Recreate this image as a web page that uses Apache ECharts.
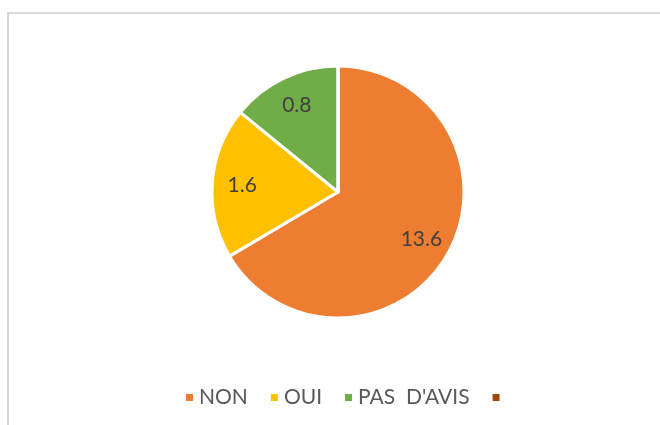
<!DOCTYPE html>
<html>
<head>
<meta charset="utf-8">
<style>
html,body{margin:0;padding:0;background:#fff;}
#chart{width:660px;height:425px;}
</style>
<script src="https://cdn.jsdelivr.net/npm/echarts@6/dist/echarts.min.js"></script>
</head>
<body>
<div id="chart"></div>
<script>
// Categories (last legend entry has no text)
const categories = ['NON', 'OUI', "PAS  D'AVIS", ' '];
// Values printed on the slices
const labelValues = [13.6, 1.6, 0.8, null];
// Slice sizes as drawn in the picture (share of the circle, %)
const sliceShares = [66.5, 19.4, 14.1, 0];
const colors = ['#ED7D31', '#FFC000', '#70AD47', '#9E480E'];

const chart = echarts.init(document.getElementById('chart'), null, {renderer: 'canvas'});
const font = 'Lato, "Open Sans", sans-serif';

const pieData = categories.map((c, i) => ({
  name: c,
  value: sliceShares[i],
  itemStyle: {color: colors[i]}
}));

chart.setOption({
  animation: false,
  color: colors,
  graphic: [{
    type: 'rect',
    silent: true,
    shape: {x: 8, y: 13, width: 700, height: 500},
    style: {fill: 'none', stroke: '#D9D9D9', lineWidth: 2}
  }],
  legend: {
    left: 179,
    top: 382,
    icon: 'rect',
    itemWidth: 9,
    itemHeight: 9,
    itemGap: 21,
    selectedMode: false,
    data: categories,
    textStyle: {fontFamily: font, fontSize: 21, color: '#595959', padding: [0, 0, 0, 0]}
  },
  series: [{
    type: 'pie',
    center: [338, 192],
    radius: [0, 126],
    startAngle: 90,
    clockwise: true,
    silent: true,
    avoidLabelOverlap: false,
    itemStyle: {borderColor: '#ffffff', borderWidth: 3},
    label: {show: false},
    labelLine: {show: false},
    emphasis: {disabled: true},
    data: pieData
  }, {
    type: 'pie',
    center: [338, 192],
    radius: [60, 126],
    startAngle: 90,
    clockwise: true,
    silent: true,
    avoidLabelOverlap: false,
    itemStyle: {color: 'transparent', borderWidth: 0, opacity: 0},
    label: {
      show: true,
      position: 'inside',
      fontFamily: font,
      fontSize: 21,
      color: '#404040',
      formatter: p => labelValues[p.dataIndex] == null ? '' : labelValues[p.dataIndex].toFixed(1)
    },
    labelLine: {show: false},
    emphasis: {disabled: true},
    data: categories.map((c, i) => ({name: c, value: sliceShares[i], itemStyle: {color: 'transparent', opacity: 0}, label: {opacity: 1}}))
  }]
});
</script>
</body>
</html>
